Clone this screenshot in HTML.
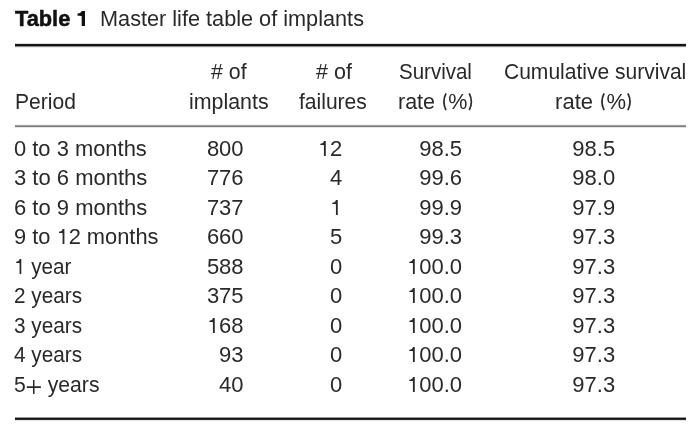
<!DOCTYPE html>
<html><head><meta charset="utf-8"><style>
html,body{margin:0;padding:0;background:#fff;width:700px;height:432px;overflow:hidden}
body{position:relative;will-change:transform;font-family:"Liberation Sans",sans-serif;color:#292929}
span{position:absolute;white-space:pre;font-size:22px;line-height:22px;transform-origin:0 0}
.b{color:#111;font-weight:bold;-webkit-text-stroke:0.5px currentColor}
.o{width:0.5562em;height:0.6982em;vertical-align:baseline;fill:currentColor}
.pl{width:0.7545em;height:0.6455em;vertical-align:-0.0909em;fill:currentColor}
.pa{width:0.3333em;height:0.7955em;vertical-align:-0.0773em;fill:none;stroke:currentColor;stroke-width:1.75}
.r{position:absolute;left:15px;width:671px}
</style></head><body>
<div class="r" style="top:43px;height:5px;background:linear-gradient(#ddd 0 1px,#151515 1px 3px,#8a8a8a 3px 4px,#eee 4px 5px)"></div>
<div class="r" style="top:124px;height:4px;background:linear-gradient(#f2f2f2 0 1px,#a2a2a2 1px 2px,#7a7a7a 2px 3px,#e4e4e4 3px 4px)"></div>
<div class="r" style="top:417px;height:4px;background:linear-gradient(#999 0 1px,#111 1px 2px,#2a2a2a 2px 3px,#e5e5e5 3px 4px)"></div>
<span class="b" style="left:15.12px;top:8px;transform:scaleX(0.9898)">Table <svg class="o" viewBox="0 0 1139 1430"><path d="M500 0L810 0L810 1430L500 1430L500 470C420 440 280 440 110 440L110 240C330 230 460 150 500 0Z"/></svg></span>
<span style="left:99.66px;top:8px;transform:scaleX(0.9858)">Master life table of implants</span>
<span style="left:210.71px;top:61px;transform:scaleX(0.9697)"># of</span>
<span style="left:315.51px;top:61px;transform:scaleX(0.9779)"># of</span>
<span style="left:398.82px;top:61px;transform:scaleX(0.9318)">Survival</span>
<span style="left:503.51px;top:61px;transform:scaleX(0.9556)">Cumulative survival</span>
<span style="left:14.51px;top:91px;transform:scaleX(0.9566)">Period</span>
<span style="left:189.04px;top:91px;transform:scaleX(0.9713)">implants</span>
<span style="left:299.06px;top:91px;transform:scaleX(0.9566)">failures</span>
<span style="left:397.53px;top:91px;transform:scaleX(0.9775)">rate <svg class="pa" viewBox="0 0 7.33 17.5"><path d="M5.1 0.4Q0.8 8.75 5.1 17.1"/></svg>%<svg class="pa" viewBox="0 0 7.33 17.5"><path d="M1.9 0.4Q6.2 8.75 1.9 17.1"/></svg></span>
<span style="left:555.09px;top:91px">rate <svg class="pa" viewBox="0 0 7.33 17.5"><path d="M5.1 0.4Q0.8 8.75 5.1 17.1"/></svg>%<svg class="pa" viewBox="0 0 7.33 17.5"><path d="M1.9 0.4Q6.2 8.75 1.9 17.1"/></svg></span>
<span style="left:14.00px;top:138px;transform:scaleX(0.9962)">0 to 3 months</span>
<span style="left:206.88px;top:138px">800</span>
<span style="left:317.82px;top:138px"><svg class="o" viewBox="0 0 1139 1430"><path d="M553 0L723 0L723 1430L553 1430L553 390C480 370 350 370 215 370L215 260C400 250 520 170 553 0Z"/></svg>2</span>
<span style="left:419.17px;top:138px">98.5</span>
<span style="left:572.37px;top:138px">98.5</span>
<span style="left:14.00px;top:167px">3 to 6 months</span>
<span style="left:206.88px;top:167px">776</span>
<span style="left:330.05px;top:167px">4</span>
<span style="left:419.17px;top:167px">99.6</span>
<span style="left:572.37px;top:167px">98.0</span>
<span style="left:14.00px;top:197px">6 to 9 months</span>
<span style="left:206.88px;top:197px">737</span>
<span style="left:330.07px;top:197px"><svg class="o" viewBox="0 0 1139 1430"><path d="M553 0L723 0L723 1430L553 1430L553 390C480 370 350 370 215 370L215 260C400 250 520 170 553 0Z"/></svg></span>
<span style="left:419.17px;top:197px">99.9</span>
<span style="left:572.37px;top:197px">97.9</span>
<span style="left:14.00px;top:226px;transform:scaleX(0.9929)">9 to <svg class="o" viewBox="0 0 1139 1430"><path d="M553 0L723 0L723 1430L553 1430L553 390C480 370 350 370 215 370L215 260C400 250 520 170 553 0Z"/></svg>2 months</span>
<span style="left:206.88px;top:226px">660</span>
<span style="left:330.05px;top:226px">5</span>
<span style="left:419.17px;top:226px">99.3</span>
<span style="left:572.37px;top:226px">97.3</span>
<span style="left:14.00px;top:256px;transform:scaleX(0.9401)"><svg class="o" viewBox="0 0 1139 1430"><path d="M553 0L723 0L723 1430L553 1430L553 390C480 370 350 370 215 370L215 260C400 250 520 170 553 0Z"/></svg> year</span>
<span style="left:206.88px;top:256px">588</span>
<span style="left:330.05px;top:256px">0</span>
<span style="left:406.94px;top:256px"><svg class="o" viewBox="0 0 1139 1430"><path d="M553 0L723 0L723 1430L553 1430L553 390C480 370 350 370 215 370L215 260C400 250 520 170 553 0Z"/></svg>00.0</span>
<span style="left:572.37px;top:256px">97.3</span>
<span style="left:14.00px;top:285px;transform:scaleX(0.9426)">2 years</span>
<span style="left:206.88px;top:285px">375</span>
<span style="left:330.05px;top:285px">0</span>
<span style="left:406.94px;top:285px"><svg class="o" viewBox="0 0 1139 1430"><path d="M553 0L723 0L723 1430L553 1430L553 390C480 370 350 370 215 370L215 260C400 250 520 170 553 0Z"/></svg>00.0</span>
<span style="left:572.37px;top:285px">97.3</span>
<span style="left:14.00px;top:315px;transform:scaleX(0.9426)">3 years</span>
<span style="left:206.88px;top:315px"><svg class="o" viewBox="0 0 1139 1430"><path d="M553 0L723 0L723 1430L553 1430L553 390C480 370 350 370 215 370L215 260C400 250 520 170 553 0Z"/></svg>68</span>
<span style="left:330.05px;top:315px">0</span>
<span style="left:406.94px;top:315px"><svg class="o" viewBox="0 0 1139 1430"><path d="M553 0L723 0L723 1430L553 1430L553 390C480 370 350 370 215 370L215 260C400 250 520 170 553 0Z"/></svg>00.0</span>
<span style="left:572.37px;top:315px">97.3</span>
<span style="left:14.00px;top:344px;transform:scaleX(0.9426)">4 years</span>
<span style="left:219.12px;top:344px">93</span>
<span style="left:330.05px;top:344px">0</span>
<span style="left:406.94px;top:344px"><svg class="o" viewBox="0 0 1139 1430"><path d="M553 0L723 0L723 1430L553 1430L553 390C480 370 350 370 215 370L215 260C400 250 520 170 553 0Z"/></svg>00.0</span>
<span style="left:572.37px;top:344px">97.3</span>
<span style="left:14.00px;top:374px;transform:scaleX(0.9632)">5<svg class="pl" viewBox="0 0 166 142"><path d="M13 63H159V79H13ZM77 0H93V142H77Z"/></svg> years</span>
<span style="left:219.12px;top:374px">40</span>
<span style="left:330.05px;top:374px">0</span>
<span style="left:406.94px;top:374px"><svg class="o" viewBox="0 0 1139 1430"><path d="M553 0L723 0L723 1430L553 1430L553 390C480 370 350 370 215 370L215 260C400 250 520 170 553 0Z"/></svg>00.0</span>
<span style="left:572.37px;top:374px">97.3</span>
</body></html>
